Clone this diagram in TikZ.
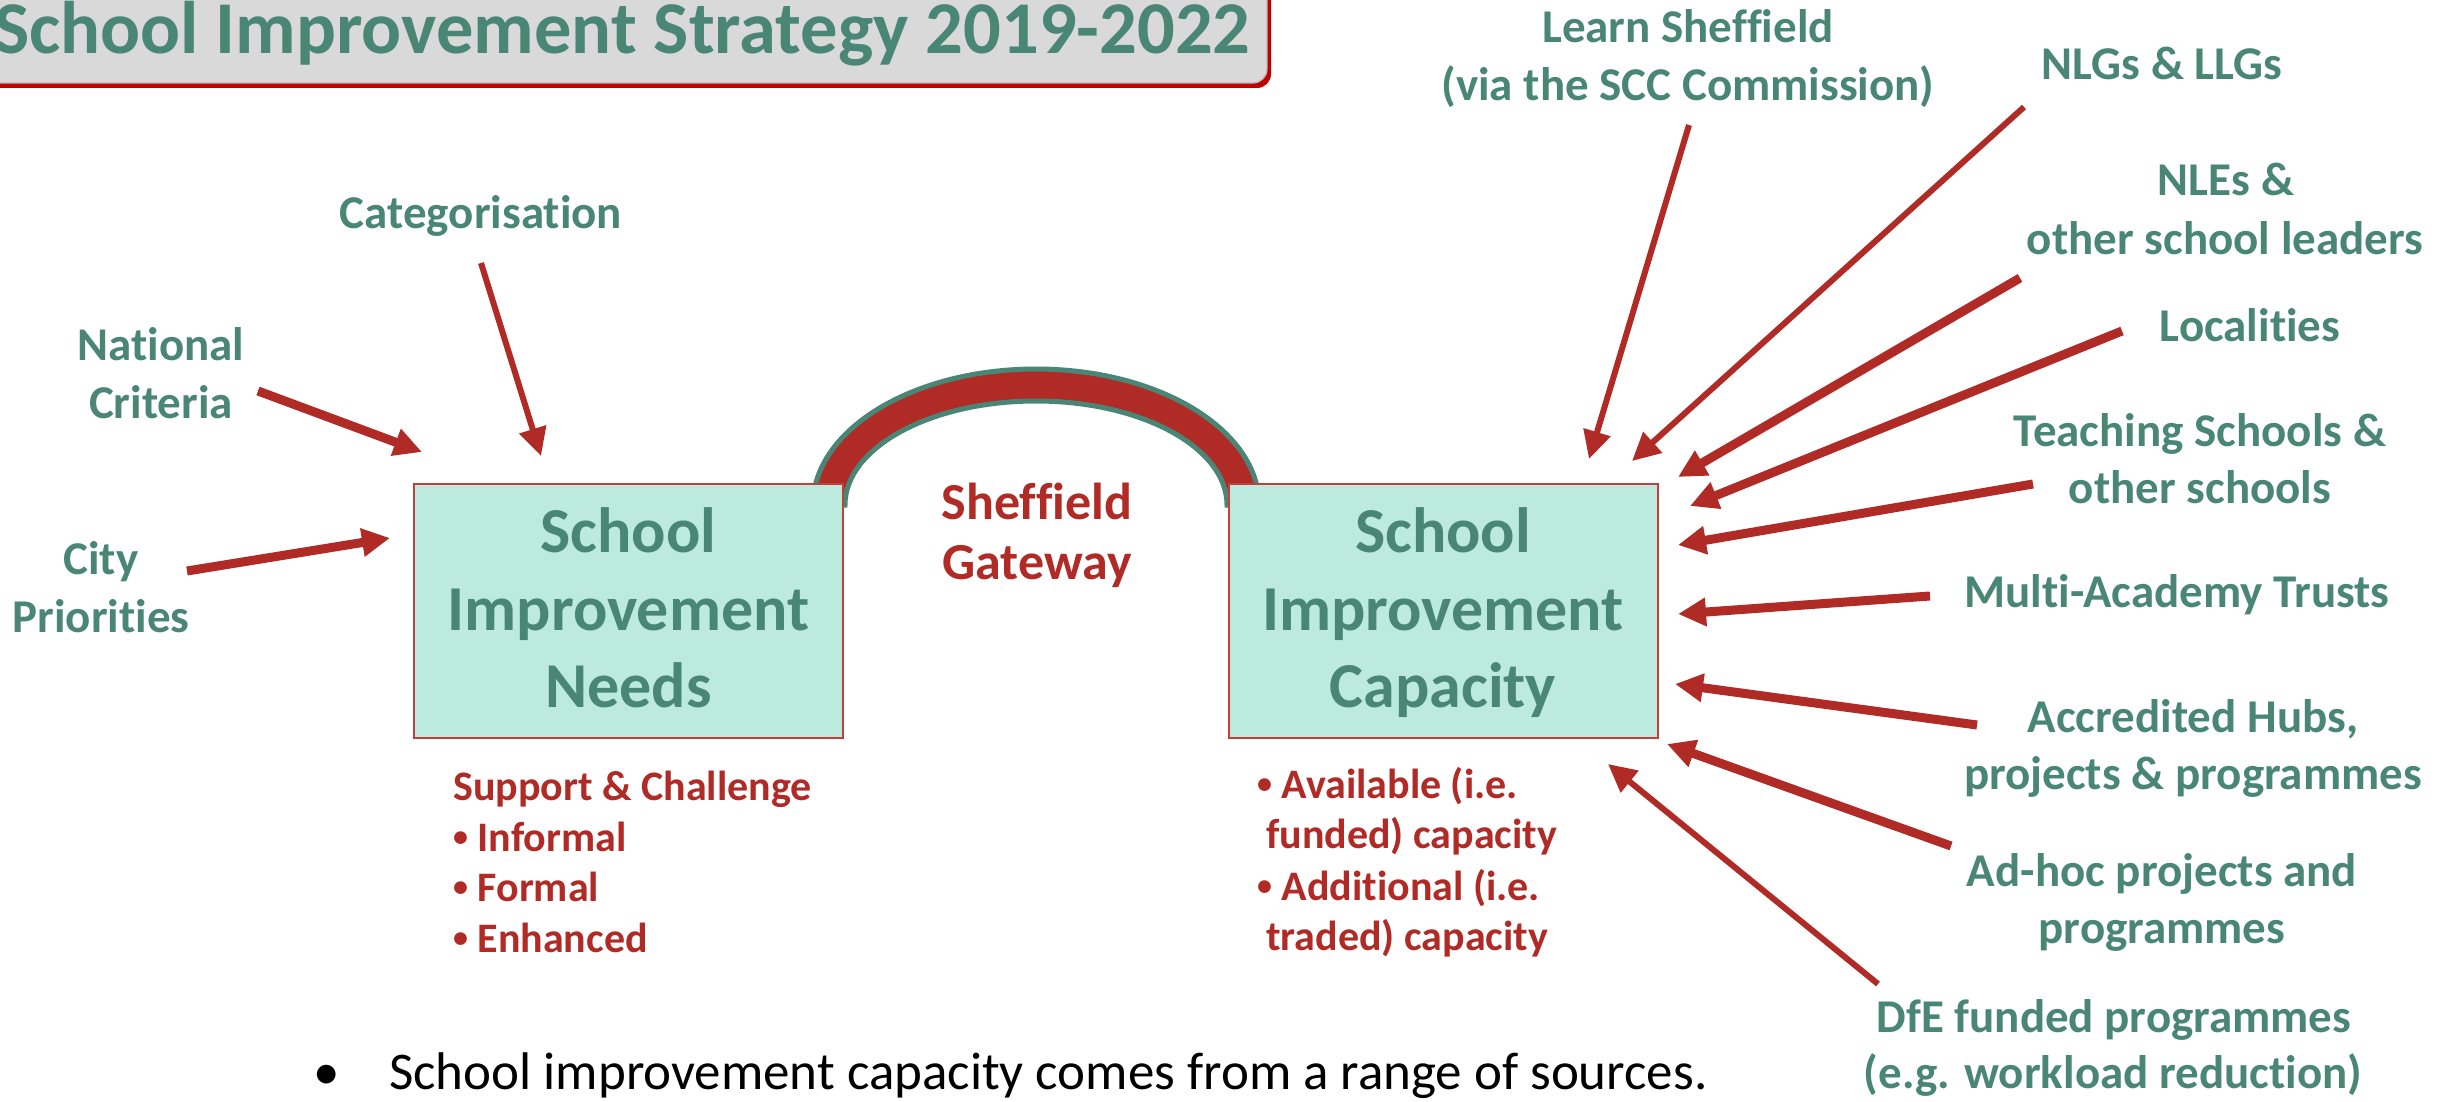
\documentclass[tikz,border=0pt]{standalone}
\usepackage{fontspec}
\setmainfont{Carlito}[Ligatures=NoCommon]
\usetikzlibrary{arrows.meta}

\definecolor{sitteal}{RGB}{74,134,118}
\definecolor{sitred}{RGB}{176,42,38}
\definecolor{boxfill}{RGB}{188,234,222}
\definecolor{boxedge}{RGB}{192,64,60}
\definecolor{titlegray}{RGB}{217,217,217}
\definecolor{titlered}{RGB}{192,0,0}

% small list bullet for the notes under the boxes
\newcommand{\notebullet}{\raisebox{5pt}{\fontsize{30}{30}\selectfont\textbullet}}

\tikzset{
  lab/.style={text=sitteal, font=\bfseries\fontsize{47}{58}\selectfont, inner sep=0pt, anchor=base},
  boxtxt/.style={text=sitteal, font=\bfseries\fontsize{64}{77}\selectfont, inner sep=0pt, anchor=base},
  note/.style={text=sitred, font=\bfseries\fontsize{42}{51}\selectfont, inner sep=0pt, anchor=base west},
  gate/.style={text=sitred, font=\bfseries\fontsize{52}{60}\selectfont, inner sep=0pt, anchor=base},
  sibox/.style={draw=boxedge, line width=2pt, fill=boxfill, minimum width=429pt, minimum height=254pt, inner sep=0pt},
  arr/.style={draw=sitred, line width=9pt, -{Triangle[length=28pt,width=27pt]}},
  arrthin/.style={arr, line width=6pt},
}

\begin{document}
\begin{tikzpicture}[x=1pt,y=-1pt]
\useasboundingbox (0,0) rectangle (2448,1102);

% title banner
\fill[titlered, rounded corners=14pt] (-40,-40) rectangle (1271,88);
\draw[fill=titlegray, draw=gray!55, line width=1.2pt, rounded corners=14pt] (-40,-40) rectangle (1267,83);
\node[anchor=base west, inner sep=0pt, text=sitteal, font=\bfseries\fontsize{74.5}{80}\selectfont] (title) at (-6,54) {School Improvement Strategy 2019-2022};

% the gateway arch between the two boxes
\filldraw[fill=sitred, draw=sitteal, line width=5pt]
  (813,505) arc[start angle=180, end angle=360, x radius=223, y radius=136]
  -- (1227,505) arc[start angle=0, end angle=-180, x radius=191, y radius=104] -- cycle;

% the two main boxes
\node[sibox] (needs) at (628.5,611) {};
\node[sibox] (capacity) at (1443,611) {};
\node[boxtxt] (needs1) at (628.5,552) {School};
\node[boxtxt] (needs2) at (628.5,630) {Improvement};
\node[boxtxt] (needs3) at (628.5,707) {Needs};
\node[boxtxt] (cap1) at (1443,552) {School};
\node[boxtxt] (cap2) at (1443,630) {Improvement};
\node[boxtxt] (cap3) at (1443,707) {Capacity};

\node[gate] (gw1) at (1037,519) {Sheffield};
\node[gate] (gw2) at (1037,579) {Gateway};

% notes under the boxes
\node[note] (sc0) at (453,800) {Support \& Challenge};
\node[note] (sc1) at (453,851) {\notebullet\ Informal};
\node[note] (sc2) at (453,901) {\notebullet\ Formal};
\node[note] (sc3) at (453,952) {\notebullet\ Enhanced};
\node[note] (cp1) at (1257,798) {\notebullet\ Available (i.e.};
\node[note] (cp2) at (1266,848) {funded) capacity};
\node[note] (cp3) at (1257,900) {\notebullet\ Additional (i.e.};
\node[note] (cp4) at (1266,950) {traded) capacity};

% sources feeding the needs box
\node[lab] (cat) at (481,229) {Categorisation};
\node[lab] (nat1) at (161,360) {National};
\node[lab] (nat2) at (161,418) {Criteria};
\node[lab] (city1) at (101,574) {City};
\node[lab] (city2) at (101,632) {Priorities};

% sources feeding the capacity box
\node[lab] (lrn1) at (1688,43) {Learn Sheffield};
\node[lab] (lrn2) at (1688,101) {(via the SCC Commission)};
\node[lab] (nlg) at (2162,80) {NLGs \& LLGs};
\node[lab] (nle1) at (2226,196) {NLEs \&};
\node[lab] (nle2) at (2225,254) {other school leaders};
\node[lab] (loc) at (2250,341) {Localities};
\node[lab] (tch1) at (2200,446) {Teaching Schools \&};
\node[lab] (tch2) at (2200,503) {other schools};
\node[lab] (mat) at (2177,607) {Multi-Academy Trusts};
\node[lab] (acc1) at (2193,732) {Accredited Hubs,};
\node[lab] (acc2) at (2193,789) {projects \& programmes};
\node[lab] (adh1) at (2162,886) {Ad-hoc projects and};
\node[lab] (adh2) at (2162,943) {programmes};
\node[lab] (dfe1) at (2114,1032) {DfE funded programmes};
\node[lab] (dfe2) at (2113,1088) {(e.g. workload reduction)};

% arrow ends
\coordinate (natS) at (258,391);  \coordinate (natE) at (422,452);
\coordinate (catS) at (481,263);  \coordinate (catE) at (541,456);
\coordinate (citS) at (187,571);  \coordinate (citE) at (390,538);
\coordinate (lrnS) at (1689,125); \coordinate (lrnE) at (1589,459);
\coordinate (nlgS) at (2024,107); \coordinate (nlgE) at (1632,461);
\coordinate (nleS) at (2020,278); \coordinate (nleE) at (1678,477);
\coordinate (locS) at (2122,331); \coordinate (locE) at (1690,506);
\coordinate (tchS) at (2033,484); \coordinate (tchE) at (1678,545);
\coordinate (matS) at (1930,596); \coordinate (matE) at (1678,614);
\coordinate (accS) at (1977,725); \coordinate (accE) at (1675,684);
\coordinate (adhS) at (1951,846); \coordinate (adhE) at (1667,744);
\coordinate (dfeS) at (1878,984); \coordinate (dfeE) at (1608,764);

\draw[arr] (natS) -- (natE);
\draw[arrthin] (catS) -- (catE);
\draw[arr] (citS) -- (citE);
\draw[arrthin] (lrnS) -- (lrnE);
\draw[arrthin] (nlgS) -- (nlgE);
\draw[arr] (nleS) -- (nleE);
\draw[arr] (locS) -- (locE);
\draw[arr] (tchS) -- (tchE);
\draw[arr] (matS) -- (matE);
\draw[arr] (accS) -- (accE);
\draw[arr] (adhS) -- (adhE);
\draw[arrthin] (dfeS) -- (dfeE);

% closing remark
\node[anchor=base, inner sep=0pt, font=\fontsize{53}{60}\selectfont] (blt) at (327,1089) {\textbullet};
\node[anchor=base west, inner sep=0pt, font=\fontsize{53}{60}\selectfont] (summary) at (389,1089) {School improvement capacity comes from a range of sources.};
\end{tikzpicture}
\end{document}
